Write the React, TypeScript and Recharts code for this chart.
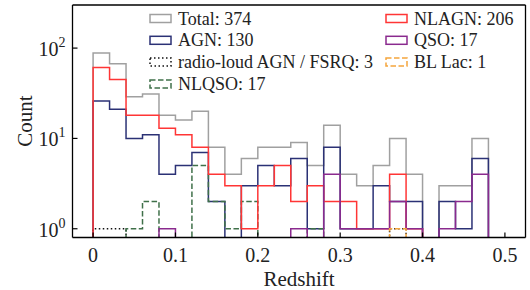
import React from 'react';
import { ComposedChart, Line, XAxis, YAxis, Customized } from 'recharts';

// ---- data (histogram, bin width 0.02 over 0 .. 0.5) ----
const binEdges = [0, 0.02, 0.04, 0.06, 0.08, 0.1, 0.12, 0.14, 0.16, 0.18, 0.2, 0.22, 0.24, 0.26, 0.28, 0.3, 0.32, 0.34, 0.36, 0.38, 0.4, 0.42, 0.44, 0.46, 0.48, 0.5];
const totalCounts = [88, 67, 29, 31, 18, 16, 20, 8, 4, 6, 8, 8, 9, 5, 14, 4, 3, 5, 10, 4, 0, 3, 3, 10, 0];
const agnCounts = [26, 21, 10, 11, 4, 5, 7, 2, 0, 3, 5, 3, 6, 1, 8, 1, 1, 3, 2, 2, 0, 2, 1, 6, 0];
const radioCounts = [1, 1, 0, 0, 0, 0, 0, 0, 0, 0, 0, 0, 0, 0, 0, 0, 0, 0, 1, 0, 0, 0, 0, 0, 0];
const nlqsoCounts = [0, 0, 1, 2, 0, 0, 5, 2, 1, 2, 0, 0, 0, 1, 0, 0, 0, 0, 0, 0, 0, 0, 0, 0, 0];
const nlagnCounts = [61, 45, 18, 18, 13, 11, 8, 4, 3, 1, 3, 5, 2, 3, 2, 2, 1, 1, 4, 1, 0, 0, 0, 0, 0];
const qsoCounts = [0, 0, 0, 0, 1, 0, 0, 0, 0, 0, 0, 0, 1, 0, 4, 1, 1, 1, 2, 1, 0, 1, 2, 4, 0];
const bllacCounts = [0, 0, 0, 0, 0, 0, 0, 0, 0, 0, 0, 0, 0, 0, 0, 0, 0, 0, 1, 0, 0, 0, 0, 0, 0];

const seriesKeys = ['total', 'agn', 'radio', 'nlqso', 'nlagn', 'qso', 'bllac'];
const seriesLabels = ['Total: 374', 'AGN: 130', 'radio-loud AGN / FSRQ: 3', 'NLQSO: 17', 'NLAGN: 206', 'QSO: 17', 'BL Lac: 1'];
const seriesCounts = [totalCounts, agnCounts, radioCounts, nlqsoCounts, nlagnCounts, qsoCounts, bllacCounts];

const xTicks = [0, 0.1, 0.2, 0.3, 0.4, 0.5];
const yTicks = [1, 10, 100];
const yExponents = ['0', '1', '2'];

// ---- styles ----
const FONT = 'Liberation Serif';
const styles: Record<string, { color: string; dash?: string }> = {
  total: { color: '#a0a0a0' },
  agn: { color: '#2b3175' },
  radio: { color: '#111111', dash: '1.5 2.5' },
  nlqso: { color: '#3f7049', dash: '5.5 2.5' },
  nlagn: { color: '#ff3535' },
  qso: { color: '#8a2a8e' },
  bllac: { color: '#f5a53c', dash: '5.5 2.5' },
};

const LOG_FLOOR = 0.1; // zero counts sit below the log axis and get clipped

// build step-outline rows from the arrays
const nBins = binEdges.length - 1;
const pick = (i: number | null) => {
  const row: Record<string, number> = {};
  seriesKeys.forEach((k, s) => {
    const v = i === null ? 0 : seriesCounts[s][i];
    row[k] = v > 0 ? v : LOG_FLOOR;
  });
  return row;
};
const rows: Record<string, number>[] = [];
rows.push({ x: binEdges[0], ...pick(null) });
for (let i = 0; i < nBins; i++) rows.push({ x: binEdges[i], ...pick(i) });
rows.push({ x: binEdges[nBins], ...pick(nBins - 1) });
rows.push({ x: binEdges[nBins], ...pick(null) });

const YTick = (props: any) => {
  const { x, y, payload } = props;
  const idx = yTicks.indexOf(payload.value);
  return (
    <g>
      <line x1={x} x2={x + 5} y1={y} y2={y} stroke="#000" strokeWidth={1.2} />
      <text x={x - 7} y={y + 8} textAnchor="end" fontFamily={FONT} fontSize={20} fill="#222">
        10<tspan dy={-9} fontSize={14}>{yExponents[idx]}</tspan>
      </text>
    </g>
  );
};

const XTick = (props: any) => {
  const { x, y, payload } = props;
  return (
    <g>
      <line x1={x} x2={x} y1={y} y2={y - 5} stroke="#000" strokeWidth={1.2} />
      <text x={x} y={y + 24} textAnchor="middle" fontFamily={FONT} fontSize={20} fill="#222">
        {String(payload.value)}
      </text>
    </g>
  );
};

const Decorations = () => {
  const leftX = 150;
  const rightX = 386;
  const rowY = [18.5, 40.3, 62.1, 83.9];
  return (
    <g>
      {seriesKeys.map((k, i) => {
        const col = i < 4 ? 0 : 1;
        const r = col === 0 ? i : i - 4;
        const hx = col === 0 ? leftX : rightX;
        const cy = rowY[r];
        const st = styles[k];
        return (
          <g key={k}>
            <rect x={hx} y={cy - 4} width={21} height={8} fill="none" stroke={st.color} strokeWidth={1.5} strokeDasharray={st.dash} />
            <text x={hx + 28} y={cy + 6} fontFamily={FONT} fontSize={18} fill="#222">
              {seriesLabels[i]}
            </text>
          </g>
        );
      })}
      <text x={299} y={286} textAnchor="middle" fontFamily={FONT} fontSize={21} fill="#222">Redshift</text>
      <text x={32} y={121} textAnchor="middle" fontFamily={FONT} fontSize={21} fill="#222" transform="rotate(-90 32 121)">Count</text>
    </g>
  );
};

export default function App() {
  return (
    <div style={{ position: 'absolute', left: 0, top: 0 }}>
      <ComposedChart width={530} height={290} data={rows} margin={{ top: 4, right: 3.5, bottom: 51.5, left: 71.5 }}>
        <XAxis dataKey="x" type="number" domain={[-0.025, 0.525]} ticks={xTicks} allowDataOverflow height={1}
          tickSize={0} tickMargin={0} tickLine={false} tick={<XTick />} axisLine={{ stroke: '#000', strokeWidth: 1.3 }} interval={0} />
        <XAxis xAxisId="top" orientation="top" dataKey="x" type="number" domain={[-0.025, 0.525]} allowDataOverflow height={1}
          tick={false} tickLine={false} axisLine={{ stroke: '#000', strokeWidth: 1.3 }} />
        <YAxis type="number" scale="log" domain={[0.8, 300]} ticks={yTicks} allowDataOverflow width={1}
          tickSize={0} tickMargin={0} tickLine={false} tick={<YTick />} axisLine={{ stroke: '#000', strokeWidth: 1.3 }} interval={0} />
        <YAxis yAxisId="right" orientation="right" type="number" scale="log" domain={[0.8, 300]} allowDataOverflow width={1}
          tick={false} tickLine={false} axisLine={{ stroke: '#000', strokeWidth: 1.3 }} />
        {seriesKeys.map((k) => (
          <Line key={k} dataKey={k} type="stepAfter" stroke={styles[k].color} strokeWidth={1.5}
            strokeDasharray={styles[k].dash} dot={false} activeDot={false} isAnimationActive={false} strokeLinejoin="miter" />
        ))}
        <Customized component={Decorations} />
      </ComposedChart>
    </div>
  );
}
